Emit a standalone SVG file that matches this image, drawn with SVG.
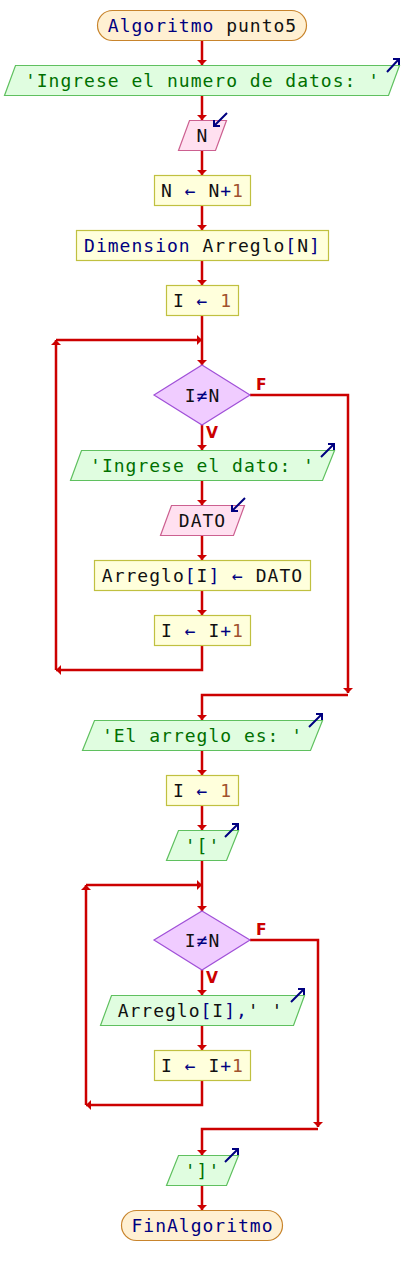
<svg xmlns="http://www.w3.org/2000/svg" width="404" height="1275" viewBox="0 0 404 1275">
<style>
.t{font-family:"DejaVu Sans Mono","Liberation Mono",monospace;font-size:18px;letter-spacing:1px;text-anchor:middle;fill:#111}
.kw{fill:#000080}.str{fill:#007000}.num{fill:#a0522d}
.term{fill:#fff0d2;stroke:#c8842c;stroke-width:1.2}
.out{fill:#e0fde0;stroke:#5fc05f;stroke-width:1.2}
.inp{fill:#ffe0f0;stroke:#cc6090;stroke-width:1.2}
.proc{fill:#ffffdc;stroke:#c0c040;stroke-width:1.2}
.dec{fill:#f0ccff;stroke:#a050d8;stroke-width:1.2}
.ico{fill:none;stroke:#000080;stroke-width:2}
.c path{fill:none;stroke:#cc0000;stroke-width:2.5}
.lbl{font-family:"DejaVu Sans","Liberation Sans",sans-serif;font-weight:bold;font-size:15.5px;fill:#cc0000}
</style>
<defs>
<marker id="ah" markerUnits="userSpaceOnUse" viewBox="0 0 5 10" refX="5" refY="5" markerWidth="5" markerHeight="10" orient="auto">
<path d="M0,0 L5,5 L0,10 z" fill="#cc0000"/>
</marker>
</defs>
<rect width="404" height="1275" fill="#fff"/>
<g class="c" id="connectors">
<path d="M202,41 V65" marker-end="url(#ah)"/>
<path d="M202,95 V120" marker-end="url(#ah)"/>
<path d="M202,150 V175" marker-end="url(#ah)"/>
<path d="M202,205 V230" marker-end="url(#ah)"/>
<path d="M202,260 V285" marker-end="url(#ah)"/>
<path d="M202,315 V365" marker-end="url(#ah)"/>
<path d="M202,425 V450" marker-end="url(#ah)"/>
<path d="M202,480 V505" marker-end="url(#ah)"/>
<path d="M202,535 V560" marker-end="url(#ah)"/>
<path d="M202,590 V615" marker-end="url(#ah)"/>
<path d="M202,645 V670 H56" marker-end="url(#ah)"/>
<path d="M56,670 V340" marker-end="url(#ah)"/>
<path d="M56,340 H202" marker-end="url(#ah)"/>
<path d="M250,395 H348 V693" marker-end="url(#ah)"/>
<path d="M348,695 H202 V720" marker-end="url(#ah)"/>
<path d="M202,750 V775" marker-end="url(#ah)"/>
<path d="M202,805 V830" marker-end="url(#ah)"/>
<path d="M202,860 V911" marker-end="url(#ah)"/>
<path d="M202,970 V995" marker-end="url(#ah)"/>
<path d="M202,1025 V1050" marker-end="url(#ah)"/>
<path d="M202,1080 V1105 H86" marker-end="url(#ah)"/>
<path d="M86,1105 V885" marker-end="url(#ah)"/>
<path d="M86,885 H202" marker-end="url(#ah)"/>
<path d="M250,940 H318 V1127" marker-end="url(#ah)"/>
<path d="M318,1129 H202 V1155" marker-end="url(#ah)"/>
<path d="M202,1185 V1210" marker-end="url(#ah)"/>
<text class="lbl" x="256" y="390">F</text>
<text class="lbl" x="206" y="438">V</text>
<text class="lbl" x="256" y="935">F</text>
<text class="lbl" x="206" y="983">V</text>
</g>
<g id="start">
<rect class="term" x="97.5" y="10.5" width="209" height="30" rx="15"/>
<text class="t" x="202.5" y="31.8"><tspan class="kw">Algoritmo</tspan> punto5</text>
</g>
<g id="out1">
<polygon class="out" points="15.5,65.5 399.5,65.5 388.5,95.5 4.5,95.5"/>
<text class="t str" x="202.5" y="87">'Ingrese el numero de datos: '</text>
<path class="ico" d="M387,72 L399,59 M393,59 H399 V65"/>
</g>
<g id="in1">
<polygon class="inp" points="189.5,120.5 226.5,120.5 215.5,150.5 178.5,150.5"/>
<text class="t" x="202.5" y="142">N</text>
<path class="ico" d="M227,113 L214,126 M214,120 V126 H220"/>
</g>
<g id="p1">
<rect class="proc" x="154.5" y="175.5" width="96" height="30"/>
<text class="t" x="202.5" y="197"><tspan>N </tspan><tspan class="kw">←</tspan><tspan> N</tspan><tspan class="kw">+</tspan><tspan class="num">1</tspan></text>
</g>
<g id="p2">
<rect class="proc" x="76.5" y="230.5" width="252" height="30"/>
<text class="t" x="202.5" y="252"><tspan class="kw">Dimension</tspan> Arreglo<tspan class="kw">[</tspan>N<tspan class="kw">]</tspan></text>
</g>
<g id="p3">
<rect class="proc" x="166.5" y="285.5" width="72" height="30"/>
<text class="t" x="202.5" y="307">I <tspan class="kw">←</tspan> <tspan class="num">1</tspan></text>
</g>
<g id="d1">
<polygon class="dec" points="202,365 250,395 202,425 154,395"/>
<text class="t" x="202.5" y="401.5">I<tspan class="kw">≠</tspan>N</text>
</g>
<g id="out2">
<polygon class="out" points="81.5,450.5 334.5,450.5 322.5,480.5 70.5,480.5"/>
<text class="t str" x="202.5" y="472">'Ingrese el dato: '</text>
<path class="ico" d="M321,457 L334,444 M328,444 H334 V450"/>
</g>
<g id="in2">
<polygon class="inp" points="171.5,505.5 244.5,505.5 233.5,535.5 160.5,535.5"/>
<text class="t" x="202.5" y="527">DATO</text>
<path class="ico" d="M245,498 L232,511 M232,505 V511 H238"/>
</g>
<g id="p4">
<rect class="proc" x="94.5" y="560.5" width="216" height="30"/>
<text class="t" x="202.5" y="582">Arreglo<tspan class="kw">[</tspan>I<tspan class="kw">]</tspan> <tspan class="kw">←</tspan> DATO</text>
</g>
<g id="p5">
<rect class="proc" x="154.5" y="615.5" width="96" height="30"/>
<text class="t" x="202.5" y="637">I <tspan class="kw">←</tspan> I<tspan class="kw">+</tspan><tspan class="num">1</tspan></text>
</g>
<g id="out3">
<polygon class="out" points="94.5,720.5 322.5,720.5 310.5,750.5 82.5,750.5"/>
<text class="t str" x="202.5" y="742">'El arreglo es: '</text>
<path class="ico" d="M309,727 L322,714 M316,714 H322 V720"/>
</g>
<g id="p6">
<rect class="proc" x="166.5" y="775.5" width="72" height="30"/>
<text class="t" x="202.5" y="797">I <tspan class="kw">←</tspan> <tspan class="num">1</tspan></text>
</g>
<g id="out4">
<polygon class="out" points="178.5,830.5 238.5,830.5 226.5,860.5 166.5,860.5"/>
<text class="t str" x="202.5" y="852">'['</text>
<path class="ico" d="M225,837 L238,824 M232,824 H238 V830"/>
</g>
<g id="d2">
<polygon class="dec" points="202,911 250,940 202,970 154,940"/>
<text class="t" x="202.5" y="946.5">I<tspan class="kw">≠</tspan>N</text>
</g>
<g id="out5">
<polygon class="out" points="111.5,995.5 304.5,995.5 293.5,1025.5 100.5,1025.5"/>
<text class="t" x="200.5" y="1017">Arreglo<tspan class="kw">[</tspan>I<tspan class="kw">]</tspan><tspan class="kw">,</tspan>' '</text>
<path class="ico" d="M291,1002 L304,989 M298,989 H304 V995"/>
</g>
<g id="p7">
<rect class="proc" x="154.5" y="1050.5" width="96" height="30"/>
<text class="t" x="202.5" y="1072">I <tspan class="kw">←</tspan> I<tspan class="kw">+</tspan><tspan class="num">1</tspan></text>
</g>
<g id="out6">
<polygon class="out" points="178.5,1155.5 238.5,1155.5 226.5,1185.5 166.5,1185.5"/>
<text class="t str" x="202.5" y="1177">']'</text>
<path class="ico" d="M225,1162 L238,1149 M232,1149 H238 V1155"/>
</g>
<g id="end">
<rect class="term" x="121.5" y="1210.5" width="161" height="30" rx="15"/>
<text class="t kw" x="202.5" y="1232">FinAlgoritmo</text>
</g>
</svg>
